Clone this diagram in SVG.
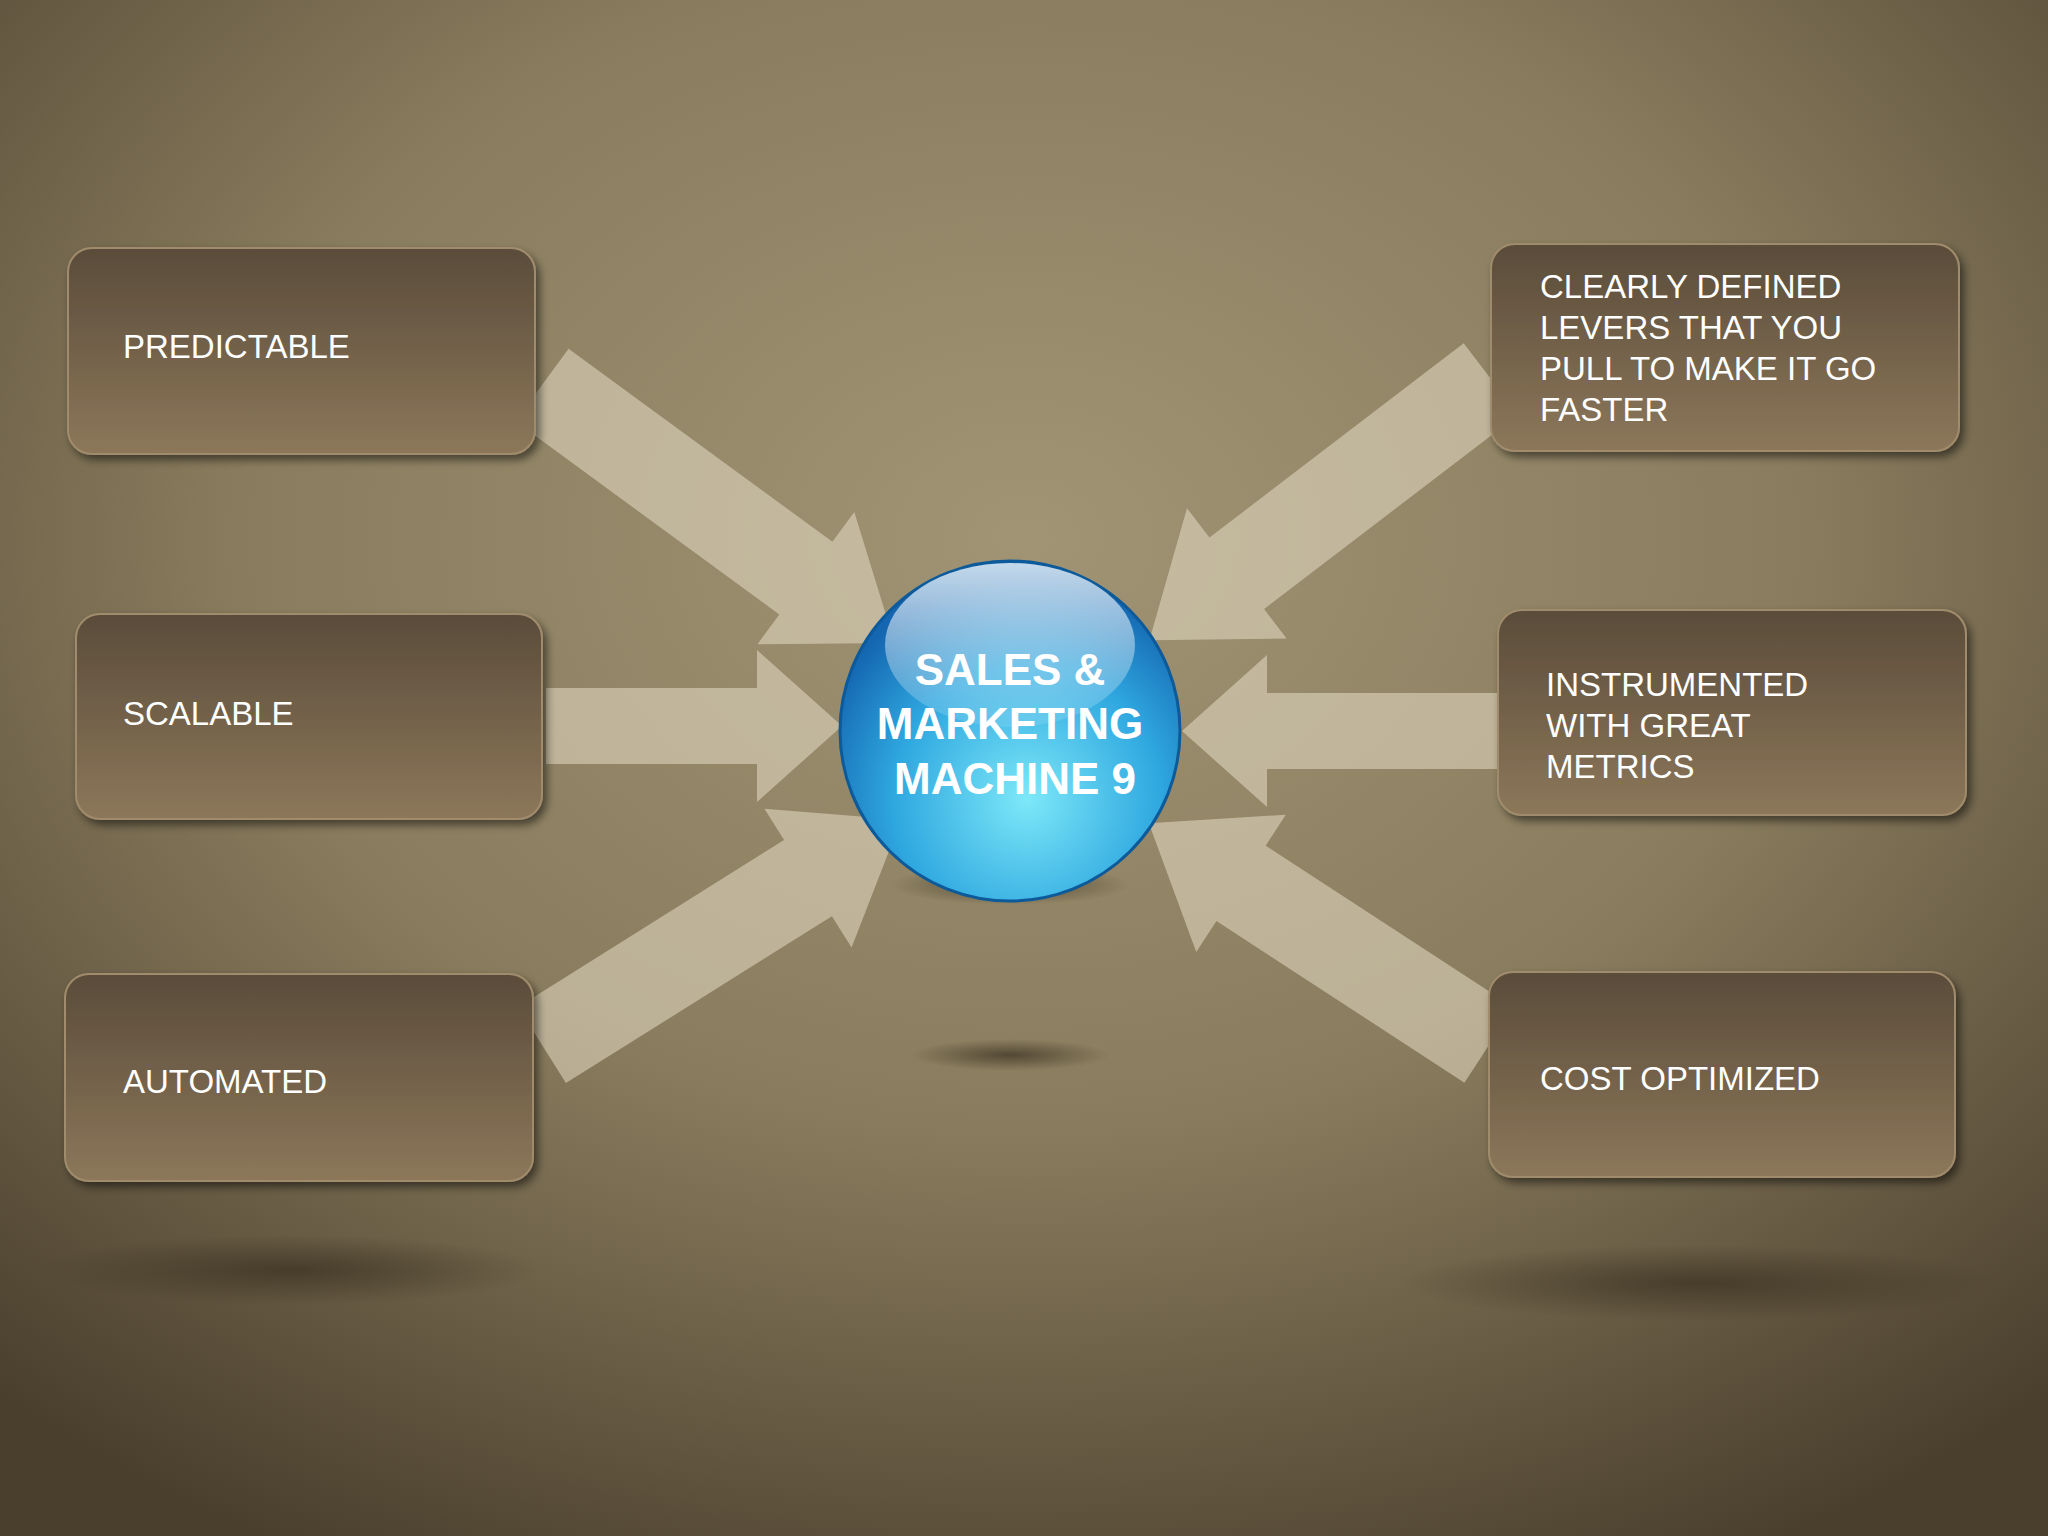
<svg xmlns="http://www.w3.org/2000/svg" width="2048" height="1536" viewBox="0 0 2048 1536">
<defs>
<radialGradient id="bg" cx="0.5" cy="0.35" r="0.75">
<stop offset="0" stop-color="#a09474"/>
<stop offset="0.5" stop-color="#8a7d5f"/>
<stop offset="1" stop-color="#4a3f2d"/>
</radialGradient>
<linearGradient id="box" x1="0" y1="0" x2="0" y2="1">
<stop offset="0" stop-color="#5a4c3a"/>
<stop offset="1" stop-color="#8c775a"/>
</linearGradient>
<radialGradient id="sph" cx="0.55" cy="0.7" r="0.65">
<stop offset="0" stop-color="#7de8f8"/>
<stop offset="0.6" stop-color="#2fa8e0"/>
<stop offset="1" stop-color="#1466b0"/>
</radialGradient>
<linearGradient id="hl" x1="0" y1="0" x2="0" y2="1">
<stop offset="0" stop-color="#ffffff" stop-opacity="0.75"/>
<stop offset="1" stop-color="#ffffff" stop-opacity="0.1"/>
</linearGradient>
<radialGradient id="sh" cx="0.5" cy="0.5" r="0.5">
<stop offset="0" stop-color="#3a3020" stop-opacity="0.7"/>
<stop offset="1" stop-color="#3a3020" stop-opacity="0"/>
</radialGradient>
<filter id="ds" x="-10%" y="-10%" width="130%" height="130%"><feDropShadow dx="4" dy="5" stdDeviation="4" flood-opacity="0.5"/></filter>
</defs>
<style>
.b{fill:url(#box);stroke:#a08c6c;stroke-width:2;filter:url(#ds)}
.t{font-family:"Liberation Sans",Arial,sans-serif;font-size:33px;fill:#ffffff}
.c{font-family:"Liberation Sans",Arial,sans-serif;font-size:44px;font-weight:bold;fill:#ffffff;text-anchor:middle}
.a{fill:#e6dcc4;fill-opacity:0.55}
</style>
<rect width="2048" height="1536" fill="url(#bg)"/>
<ellipse cx="290" cy="1270" rx="250" ry="35" fill="url(#sh)"/>
<ellipse cx="1700" cy="1283" rx="300" ry="38" fill="url(#sh)"/>
<ellipse cx="1010" cy="1055" rx="100" ry="16" fill="url(#sh)"/>
<g id="connectors">
<path class="a" transform="translate(542,385) rotate(36.2)" d="M0,-45 L327,-45 L327,-82 L437,0 L327,82 L327,45 L0,45 Z"/>
<path class="a" transform="translate(546,726)" d="M0,-38 L211,-38 L211,-76 L296,0 L211,76 L211,38 L0,38 Z"/>
<path class="a" transform="translate(542,1045) rotate(-32.1)" d="M0,-45 L314,-45 L314,-82 L424,0 L314,82 L314,45 L0,45 Z"/>
<path class="a" transform="translate(1491,379) rotate(142.6)" d="M0,-45 L320,-45 L320,-82 L430,0 L320,82 L320,45 L0,45 Z"/>
<path class="a" transform="translate(1498,731) rotate(180)" d="M0,-38 L231,-38 L231,-76 L316,0 L231,76 L231,38 L0,38 Z"/>
<path class="a" transform="translate(1489,1045) rotate(213.1)" d="M0,-45 L296,-45 L296,-82 L406,0 L296,82 L296,45 L0,45 Z"/>
</g>
<g id="n1"><rect class="b" x="68" y="248" width="467" height="206" rx="24"/><text class="t" x="123" y="358">PREDICTABLE</text></g>
<g id="n2"><rect class="b" x="76" y="614" width="466" height="205" rx="24"/><text class="t" x="123" y="725">SCALABLE</text></g>
<g id="n3"><rect class="b" x="65" y="974" width="468" height="207" rx="24"/><text class="t" x="123" y="1093">AUTOMATED</text></g>
<g id="n4"><rect class="b" x="1491" y="244" width="468" height="207" rx="24"/><text class="t" x="1540" y="298">CLEARLY DEFINED</text><text class="t" x="1540" y="339">LEVERS THAT YOU</text><text class="t" x="1540" y="380">PULL TO MAKE IT GO</text><text class="t" x="1540" y="421">FASTER</text></g>
<g id="n5"><rect class="b" x="1498" y="610" width="468" height="205" rx="24"/><text class="t" x="1546" y="696">INSTRUMENTED</text><text class="t" x="1546" y="737">WITH GREAT</text><text class="t" x="1546" y="778">METRICS</text></g>
<g id="n6"><rect class="b" x="1489" y="972" width="466" height="205" rx="24"/><text class="t" x="1540" y="1090">COST OPTIMIZED</text></g>
<g id="center">
<ellipse cx="1010" cy="885" rx="120" ry="20" fill="url(#sh)"/>
<circle cx="1010" cy="731" r="170" fill="url(#sph)" stroke="#0d5a9a" stroke-width="3"/>
<ellipse cx="1010" cy="645" rx="125" ry="82" fill="url(#hl)"/>
<text class="c" x="1010" y="685">SALES &amp;</text>
<text class="c" x="1010" y="739">MARKETING</text>
<text class="c" x="1015" y="794">MACHINE 9</text>
</g>
</svg>
